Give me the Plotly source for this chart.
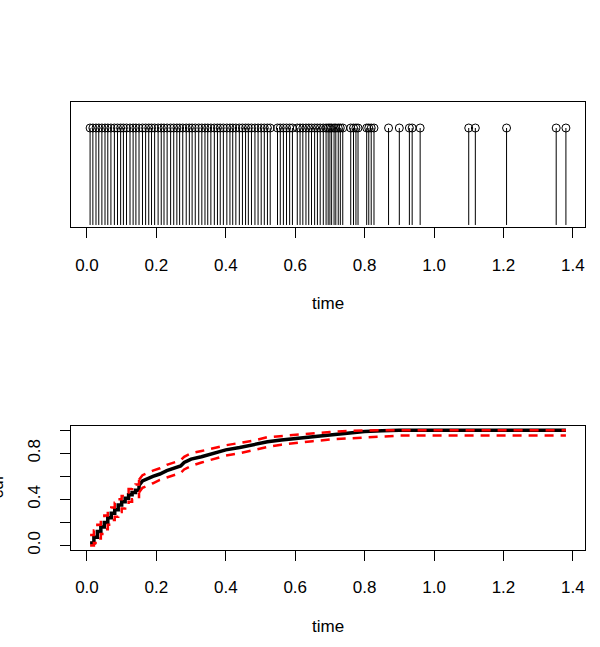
import plotly.graph_objects as go

# ---------------- data ----------------
event_times = [
    0.009, 0.017, 0.026, 0.034, 0.043, 0.052, 0.060, 0.069, 0.079, 0.088,
    0.097, 0.105, 0.114, 0.124, 0.133, 0.141, 0.150, 0.160, 0.169, 0.178,
    0.186, 0.195, 0.205, 0.214, 0.222, 0.231, 0.241, 0.250, 0.259, 0.267,
    0.276, 0.286, 0.295, 0.303, 0.312, 0.322, 0.331, 0.340, 0.348, 0.357,
    0.367, 0.376, 0.384, 0.393, 0.403, 0.412, 0.420, 0.429, 0.439, 0.448,
    0.457, 0.465, 0.474, 0.484, 0.493, 0.502, 0.511, 0.520, 0.528,
    0.549, 0.557, 0.566, 0.575, 0.584, 0.592,
    0.606, 0.614, 0.622, 0.631, 0.639, 0.647, 0.656, 0.664, 0.672, 0.681,
    0.689, 0.695,
    0.700, 0.705, 0.712, 0.717, 0.724, 0.730, 0.737,
    0.760, 0.768, 0.775, 0.781,
    0.806, 0.812, 0.819, 0.827,
    0.869, 0.900, 0.929, 0.937, 0.960, 1.100, 1.119, 1.209, 1.352, 1.380,
]

cdf_time = [
    0.009, 0.02, 0.03, 0.04, 0.05, 0.06, 0.07, 0.08, 0.09, 0.10,
    0.11, 0.12, 0.13, 0.14, 0.15, 0.16, 0.19, 0.21, 0.23, 0.25,
    0.27, 0.28, 0.30, 0.33, 0.36, 0.40, 0.44, 0.48, 0.52, 0.56,
    0.60, 0.65, 0.70, 0.75, 0.80, 0.85, 0.90, 1.00, 1.38,
]
cdf_value = [
    0.02, 0.07, 0.12, 0.16, 0.20, 0.24, 0.28, 0.31, 0.35, 0.38,
    0.41, 0.44, 0.46, 0.48, 0.52, 0.56, 0.60, 0.62, 0.65, 0.67,
    0.69, 0.72, 0.75, 0.77, 0.795, 0.83, 0.85, 0.875, 0.90, 0.915,
    0.93, 0.945, 0.96, 0.975, 0.99, 0.995, 1.0, 1.0, 1.0,
]
cdf_upper = [
    0.09, 0.13, 0.18, 0.22, 0.26, 0.30, 0.33, 0.37, 0.40, 0.43,
    0.46, 0.49, 0.51, 0.53, 0.57, 0.61, 0.65, 0.67, 0.70, 0.72,
    0.74, 0.77, 0.80, 0.82, 0.84, 0.87, 0.89, 0.91, 0.94, 0.95,
    0.965, 0.975, 0.985, 0.995, 1.0, 1.0, 1.0, 1.0, 1.0,
]
cdf_lower = [
    0.0, 0.02, 0.06, 0.10, 0.14, 0.18, 0.22, 0.25, 0.29, 0.32,
    0.35, 0.38, 0.40, 0.42, 0.46, 0.50, 0.54, 0.57, 0.59, 0.61,
    0.63, 0.66, 0.69, 0.72, 0.745, 0.78, 0.80, 0.83, 0.855, 0.875,
    0.89, 0.905, 0.92, 0.93, 0.94, 0.95, 0.954, 0.954, 0.954,
]

x_ticks = [0.0, 0.2, 0.4, 0.6, 0.8, 1.0, 1.2, 1.4]
x_tick_labels = ["0.0", "0.2", "0.4", "0.6", "0.8", "1.0", "1.2", "1.4"]
y_ticks = [0.0, 0.2, 0.4, 0.6, 0.8, 1.0]
y_tick_labels = ["0.0", "", "0.4", "", "0.8", ""]
x_title = "time"
y_title = "cdf"
stem_height = 1.0
step_until = 0.15   # early part drawn as a staircase

# ---------------- figure ----------------
W, H = 600, 647
FONT = "Liberation Sans, Arial, Helvetica, sans-serif"
FS = 17

fig = go.Figure()

sx, sy = [], []
for t in event_times:
    sx += [t, t, None]
    sy += [0, stem_height, None]
fig.add_trace(go.Scatter(x=sx, y=sy, mode="lines",
                         line=dict(color="black", width=1),
                         xaxis="x", yaxis="y", hoverinfo="skip"))
fig.add_trace(go.Scatter(x=event_times, y=[stem_height] * len(event_times),
                         mode="markers",
                         marker=dict(symbol="circle-open", size=8, color="black",
                                     line=dict(width=1, color="black")),
                         xaxis="x", yaxis="y"))

k = max(i for i, t in enumerate(cdf_time) if t <= step_until)


def add_curve(vals, color, width, dash=None):
    for xs, ys, shape in ((cdf_time[:k + 1], vals[:k + 1], "hv"),
                          (cdf_time[k:], vals[k:], "linear")):
        fig.add_trace(go.Scatter(x=xs, y=ys, mode="lines",
                                 line=dict(color=color, width=width, dash=dash, shape=shape),
                                 xaxis="x2", yaxis="y2"))


add_curve(cdf_value, "black", 3.5)
add_curve(cdf_upper, "#ff0000", 2.5, "9px,7px")
add_curve(cdf_lower, "#ff0000", 2.5, "9px,7px")

xdom = [71 / W, 585 / W]
top_dom = [1 - 228.3 / H, 1 - 103 / H]
bot_dom = [1 - 554.3 / H, 1 - 429 / H]

common_x = dict(
    domain=xdom, range=[-0.046, 1.435], tickvals=x_ticks, ticktext=x_tick_labels,
    ticks="outside", ticklen=10, tickwidth=1, tickcolor="black",
    showline=True, mirror=True, linecolor="black", linewidth=1,
    showgrid=False, zeroline=False,
    tickfont=dict(family=FONT, size=FS, color="black"),
)

fig.update_layout(
    width=W, height=H,
    margin=dict(l=0, r=0, t=0, b=0),
    paper_bgcolor="white", plot_bgcolor="white",
    showlegend=False,
    font=dict(family=FONT, size=FS, color="black"),
    xaxis=dict(anchor="y", ticklabelstandoff=13, **common_x),
    yaxis=dict(anchor="x", domain=top_dom, range=[-0.016, 1.266],
               showline=True, mirror=True, linecolor="black", linewidth=1,
               showticklabels=False, ticks="", showgrid=False, zeroline=False),
    xaxis2=dict(anchor="y2", ticklabelstandoff=12, **common_x),
    yaxis2=dict(anchor="x2", domain=bot_dom, range=[-0.04, 1.04],
                tickvals=y_ticks, ticktext=y_tick_labels, tickangle=-90,
                ticks="outside", ticklen=10, tickwidth=1, tickcolor="black",
                showline=True, mirror=True, linecolor="black", linewidth=1,
                showgrid=False, zeroline=False, ticklabelstandoff=13,
                tickfont=dict(family=FONT, size=FS, color="black")),
    annotations=[
        dict(text=x_title, xref="x", yref="paper", x=0.695, y=1 - 306 / H,
             showarrow=False, xanchor="center", yanchor="middle",
             font=dict(family=FONT, size=FS, color="black")),
        dict(text=x_title, xref="x2", yref="paper", x=0.695, y=1 - 631 / H,
             showarrow=False, xanchor="center", yanchor="middle",
             font=dict(family=FONT, size=FS, color="black")),
        dict(text=y_title, xref="paper", yref="paper", x=-3 / W, y=1 - 491 / H,
             showarrow=False, xanchor="center", yanchor="middle", textangle=-90,
             font=dict(family=FONT, size=FS, color="black")),
    ],
)

fig.write_html("out.html")
